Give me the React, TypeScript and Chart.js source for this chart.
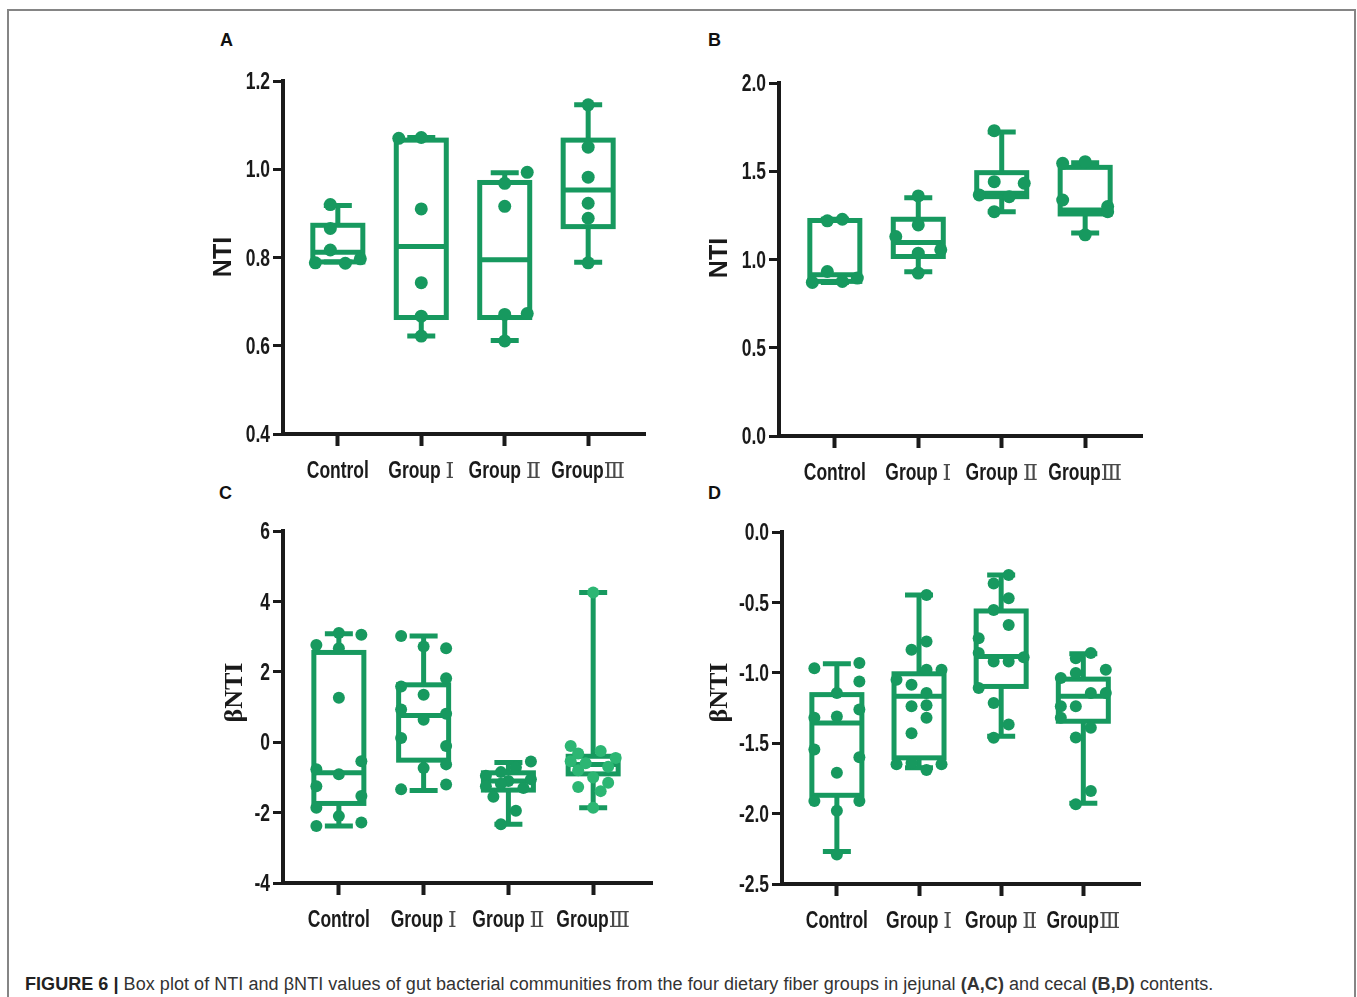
import React, { useEffect, useRef } from "react";
import { Chart, registerables } from "chart.js";
Chart.register(...registerables);

// ---------- data ----------
const CATEGORIES = ["Control", "Group Ⅰ", "Group Ⅱ", "GroupⅢ"];

// Panel A (jejunal NTI)
const A_YTICKS = [0.4, 0.6, 0.8, 1.0, 1.2];
const A_MIN = [0.79, 0.622, 0.612, 0.789];
const A_Q1 = [0.79, 0.664, 0.664, 0.87];
const A_MEDIAN = [0.812, 0.825, 0.795, 0.953];
const A_Q3 = [0.873, 1.066, 0.97, 1.066];
const A_MAX = [0.918, 1.072, 0.992, 1.146];
const A_CONTROL = [0.92, 0.866, 0.817, 0.788, 0.787, 0.797];
const A_GROUP1 = [1.07, 1.072, 0.91, 0.743, 0.667, 0.622];
const A_GROUP2 = [0.993, 0.968, 0.916, 0.671, 0.673, 0.611];
const A_GROUP3 = [1.146, 1.05, 0.982, 0.923, 0.889, 0.788];
const A_CONTROL_LANES = [-0.5, -0.5, -0.5, -1.5, 0.5, 1.5];
const A_GROUP1_LANES = [-1.5, 0, 0, 0, 0, 0];
const A_GROUP2_LANES = [1.5, 0, 0, 0, 1.5, 0];
const A_GROUP3_LANES = [0, 0, 0, 0, 0, 0];

// Panel B (cecal NTI)
const B_YTICKS = [0, 0.5, 1.0, 1.5, 2.0];
const B_MIN = [0.87, 0.93, 1.271, 1.15];
const B_Q1 = [0.876, 1.017, 1.356, 1.258];
const B_MEDIAN = [0.913, 1.096, 1.375, 1.281];
const B_Q3 = [1.221, 1.228, 1.492, 1.522];
const B_MAX = [1.228, 1.35, 1.723, 1.548];
const B_CONTROL = [1.219, 1.228, 0.932, 0.87, 0.876, 0.895];
const B_GROUP1 = [1.36, 1.196, 1.13, 1.036, 1.055, 0.923];
const B_GROUP2 = [1.73, 1.441, 1.432, 1.366, 1.356, 1.271];
const B_GROUP3 = [1.545, 1.554, 1.337, 1.3, 1.271, 1.14];
const B_CONTROL_LANES = [-0.5, 0.5, -0.5, -1.5, 0.5, 1.5];
const B_GROUP1_LANES = [0, 0, -1.5, 0, 1.5, 0];
const B_GROUP2_LANES = [-0.5, -0.5, 1.5, -1.5, 0.5, -0.5];
const B_GROUP3_LANES = [-1.5, 0, -1.5, 1.5, 1.5, 0];

// Panel C (jejunal βNTI)
const C_YTICKS = [-4, -2, 0, 2, 4, 6];
const C_MIN = [-2.38, -1.37, -2.33, -1.86];
const C_Q1 = [-1.74, -0.51, -1.36, -0.9];
const C_MEDIAN = [-0.87, 0.76, -1.1, -0.63];
const C_Q3 = [2.55, 1.63, -0.87, -0.4];
const C_MAX = [3.08, 3.02, -0.58, 4.25];
const C_CONTROL = [2.76, 3.1, 3.05, 2.67, 1.26, -0.54, -0.77, -0.91, -1.25, -1.53, -1.86, -2.1, -2.38, -2.28];
const C_GROUP1 = [3.02, 2.72, 2.67, 1.82, 1.58, 1.35, 0.93, 0.81, 0.64, 0.12, -0.11, -0.73, -0.63, -1.34, -1.2];
const C_GROUP2 = [-0.55, -0.72, -0.85, -0.95, -1.05, -1.1, -1.18, -1.25, -1.3, -1.55, -1.95, -2.33];
const C_GROUP3 = [4.25, -0.11, -0.32, -0.25, -0.45, -0.54, -0.6, -0.7, -0.8, -1.0, -1.15, -1.27, -1.39, -1.86];
const C_CONTROL_LANES = [-1.5, 0, 1.5, 0, 0, 1.5, -1.5, 0, -1.5, 1.5, -1.5, 0, -1.5, 1.5];
const C_GROUP1_LANES = [-1.5, 0, 1.5, 1.5, -1.5, 0, -1.5, 1.5, 0, -1.5, 1.5, 0, 1.5, -1.5, 1.5];
const C_GROUP2_LANES = [1.5, 0.5, -0.5, -1.5, 1.5, 0, -0.5, -1.5, 1, -1, 0.5, -0.5];
const C_GROUP3_LANES = [0, -1.5, -1, 0.5, 1.5, -1.5, -0.5, 1, -1, 0, 1, -1, 0.5, 0];

// Panel D (cecal βNTI)
const D_YTICKS = [-2.5, -2.0, -1.5, -1.0, -0.5, 0.0];
const D_MIN = [-2.27, -1.674, -1.45, -1.927];
const D_Q1 = [-1.87, -1.604, -1.097, -1.344];
const D_MEDIAN = [-1.356, -1.167, -0.884, -1.167];
const D_Q3 = [-1.155, -1.007, -0.561, -1.045];
const D_MAX = [-0.936, -0.448, -0.306, -0.865];
const D_CONTROL = [-0.967, -0.931, -1.061, -1.143, -1.32, -1.31, -1.26, -1.545, -1.6, -1.71, -1.91, -1.91, -1.98, -2.29];
const D_GROUP1 = [-0.448, -0.778, -0.837, -0.979, -0.979, -1.05, -1.085, -1.143, -1.23, -1.238, -1.32, -1.43, -1.65, -1.64, -1.69, -1.65];
const D_GROUP2 = [-0.306, -0.365, -0.471, -0.554, -0.66, -0.755, -0.86, -0.92, -0.92, -0.89, -1.108, -1.214, -1.368, -1.462];
const D_GROUP3 = [-0.86, -0.896, -0.979, -1.037, -1.002, -1.143, -1.143, -1.238, -1.238, -1.32, -1.39, -1.46, -1.84, -1.934];
const D_CONTROL_LANES = [-1.5, 1.5, 1.5, 0, -1.5, 0, 1.5, -1.5, 1.5, 0, -1.5, 1.5, 0, 0];
const D_GROUP1_LANES = [0.5, 0.5, -0.5, 0.5, 1.5, -1.5, -0.5, 0.5, 0.5, -0.5, 0.5, -0.5, -1.5, -0.5, 0.5, 1.5];
const D_GROUP2_LANES = [0.5, -0.5, 0.5, -0.5, 0.5, -1.5, -1.5, -0.5, 0.5, 1.5, -1.5, -0.5, 0.5, -0.5];
const D_GROUP3_LANES = [0.5, -0.5, 1.5, -1.5, -0.5, 0.5, 1.5, -1.5, -0.5, -1.5, 0.5, -0.5, 0.5, -0.5];

// ---------- styles ----------
const GREEN = "#17995f";
const GREEN_LIGHT = "#2cb673";
const INK = "#1a1a1a";
const SANS = "'Liberation Sans', Arial, sans-serif";
const SERIF = "'Liberation Serif', 'Times New Roman', serif";
const NUMERAL_FONT = "'DejaVu Serif', 'Noto Sans CJK SC', serif";
const LABEL_SIZE = 23;
const LABEL_SX = 0.76;

type PanelProps = {
  plotLeft: number; plotTop: number; plotRight: number; plotBottom: number;
  xMin: number; xMax: number;
  yTicks: number[]; decimals: number;
  title: string; titleFont: string; titleSize: number; titleX: number; titleY: number;
  stats: { min: number[]; q1: number[]; med: number[]; q3: number[]; max: number[] };
  groups: number[][]; lanes: number[][]; pointColors: string[];
  radius: number;
};

const YW = 80, PT = 20, PR = 20, XH = 58;
const LANE_PX = 15, BOX_HALF = 25, CAP_HALF = 14, LW = 5;

function drawNarrow(ctx: CanvasRenderingContext2D, text: string, x: number, baseY: number) {
  ctx.save();
  ctx.translate(x, baseY);
  ctx.scale(LABEL_SX, 1);
  ctx.font = `bold ${LABEL_SIZE}px ${SANS}`;
  ctx.textAlign = "left";
  ctx.textBaseline = "alphabetic";
  ctx.fillStyle = INK;
  ctx.fillText(text, 0, 0);
  ctx.restore();
}
function narrowWidth(ctx: CanvasRenderingContext2D, text: string) {
  ctx.save();
  ctx.font = `bold ${LABEL_SIZE}px ${SANS}`;
  const w = ctx.measureText(text).width * LABEL_SX;
  ctx.restore();
  return w;
}

function Panel(p: PanelProps) {
  const ref = useRef<HTMLCanvasElement>(null);
  const W = YW + (p.plotRight - p.plotLeft) + PR;
  const H = PT + (p.plotBottom - p.plotTop) + XH;
  const left = p.plotLeft - YW;
  const top = p.plotTop - PT;
  useEffect(() => {
    const pxPerCat = (p.plotRight - p.plotLeft) / (p.xMax - p.xMin);
    const boxPlugin = {
      id: "boxes",
      beforeDatasetsDraw(chart: any) {
        const { ctx, scales } = chart;
        const x = scales.x, y = scales.y;
        ctx.save();
        ctx.strokeStyle = GREEN;
        ctx.lineWidth = LW;
        ctx.lineCap = "butt";
        ctx.lineJoin = "miter";
        const s = p.stats;
        for (let i = 0; i < s.q1.length; i++) {
          const cx = x.getPixelForValue(i);
          const yMin = y.getPixelForValue(s.min[i]);
          const yQ1 = y.getPixelForValue(s.q1[i]);
          const yMed = y.getPixelForValue(s.med[i]);
          const yQ3 = y.getPixelForValue(s.q3[i]);
          const yMax = y.getPixelForValue(s.max[i]);
          ctx.beginPath();
          ctx.moveTo(cx, yQ3); ctx.lineTo(cx, yMax);
          ctx.moveTo(cx, yQ1); ctx.lineTo(cx, yMin);
          ctx.moveTo(cx - CAP_HALF, yMax); ctx.lineTo(cx + CAP_HALF, yMax);
          ctx.moveTo(cx - CAP_HALF, yMin); ctx.lineTo(cx + CAP_HALF, yMin);
          ctx.moveTo(cx - BOX_HALF, yMed); ctx.lineTo(cx + BOX_HALF, yMed);
          ctx.stroke();
          ctx.strokeRect(cx - BOX_HALF, yQ3, 2 * BOX_HALF, yQ1 - yQ3);
        }
        ctx.restore();
      },
      afterDraw(chart: any) {
        const { ctx, scales, chartArea } = chart;
        const x = scales.x, y = scales.y;
        // y tick labels
        for (const t of y.ticks) {
          const py = y.getPixelForValue(t.value);
          const label = Number(t.value).toFixed(p.decimals);
          const w = narrowWidth(ctx, label);
          drawNarrow(ctx, label, chartArea.left - 13 - w, py + LABEL_SIZE * 0.716 / 2);
        }
        // x tick labels (Roman numerals in a light serif face)
        const baseY = chartArea.bottom + 44;
        x.ticks.forEach((t: any) => {
          const label = CATEGORIES[Math.round(t.value)] ?? "";
          const m = label.match(/^(.*?)([ⅠⅡⅢ]?)$/) || [label, label, ""];
          const main = m[1], num = m[2];
          const w1 = narrowWidth(ctx, main);
          ctx.save();
          ctx.font = `22px ${NUMERAL_FONT}`;
          const w2 = num ? ctx.measureText(num).width : 0;
          ctx.restore();
          const cx = x.getPixelForValue(t.value);
          const x0 = cx - (w1 + w2) / 2;
          drawNarrow(ctx, main, x0, baseY);
          if (num) {
            ctx.save();
            ctx.font = `22px ${NUMERAL_FONT}`;
            ctx.fillStyle = "#4a4a4a";
            ctx.textAlign = "left";
            ctx.textBaseline = "alphabetic";
            ctx.fillText(num, x0 + w1, baseY);
            ctx.restore();
          }
        });
        // axis title
        ctx.save();
        ctx.translate(p.titleX - left, p.titleY - top);
        ctx.rotate(-Math.PI / 2);
        ctx.font = `bold ${p.titleSize}px ${p.titleFont}`;
        ctx.fillStyle = INK;
        ctx.textAlign = "center";
        ctx.textBaseline = "middle";
        ctx.fillText(p.title, 0, 0);
        ctx.restore();
      },
    };
    const chart = new Chart(ref.current!, {
      type: "scatter",
      data: {
        datasets: p.groups.map((vals, i) => ({
          data: vals.map((v, k) => ({ x: i + (p.lanes[i][k] * LANE_PX) / pxPerCat, y: v })),
          pointRadius: p.radius,
          pointHoverRadius: p.radius,
          pointBackgroundColor: p.pointColors[i],
          pointBorderWidth: 0,
          pointBorderColor: p.pointColors[i],
        })),
      },
      options: {
        animation: false,
        responsive: false,
        maintainAspectRatio: false,
        devicePixelRatio: 1,
        layout: { padding: { top: PT, right: PR, bottom: 0, left: 0 } },
        plugins: { legend: { display: false }, tooltip: { enabled: false } },
        scales: {
          x: {
            type: "linear",
            min: p.xMin,
            max: p.xMax,
            afterBuildTicks: (s: any) => { s.ticks = CATEGORIES.map((_, i) => ({ value: i })); },
            afterFit: (s: any) => { s.height = XH; },
            ticks: { display: false },
            grid: { drawOnChartArea: false, drawTicks: true, tickLength: 12, tickWidth: 4, tickColor: INK },
            border: { display: true, width: 4, color: INK },
          },
          y: {
            type: "linear",
            min: p.yTicks[0],
            max: p.yTicks[p.yTicks.length - 1],
            afterBuildTicks: (s: any) => { s.ticks = p.yTicks.map((v) => ({ value: v })); },
            afterFit: (s: any) => { s.width = YW; },
            ticks: { display: false },
            grid: { drawOnChartArea: false, drawTicks: true, tickLength: 10, tickWidth: 3, tickColor: INK },
            border: { display: true, width: 4, color: INK },
          },
        },
      },
      plugins: [boxPlugin],
    } as any);
    return () => chart.destroy();
  }, []);
  return (
    <canvas
      ref={ref}
      width={W}
      height={H}
      style={{ position: "absolute", left, top, width: W, height: H }}
    />
  );
}

export default function App() {
  const letter = (t: string, left: number, top: number) => (
    <div style={{ position: "absolute", left, top, fontFamily: SANS, fontWeight: "bold", fontSize: 18, lineHeight: 1, color: "#111" }}>{t}</div>
  );
  return (
    <div style={{ position: "absolute", left: 0, top: 0, width: 1357, height: 997, background: "#fff", overflow: "hidden" }}>
      <div style={{ position: "absolute", left: 7, top: 9, width: 1349, height: 1100, boxSizing: "border-box", borderTop: "2px solid #858585", borderLeft: "2px solid #858585", borderRight: "2px solid #858585" }} />
      {letter("A", 220, 31)}
      {letter("B", 708, 31)}
      {letter("C", 219, 484)}
      {letter("D", 708, 484)}
      <Panel
        plotLeft={283} plotTop={81} plotRight={645} plotBottom={434}
        xMin={-0.657} xMax={3.681} yTicks={A_YTICKS} decimals={1}
        title="NTI" titleFont={SANS} titleSize={25} titleX={224.5} titleY={257}
        stats={{ min: A_MIN, q1: A_Q1, med: A_MEDIAN, q3: A_Q3, max: A_MAX }}
        groups={[A_CONTROL, A_GROUP1, A_GROUP2, A_GROUP3]}
        lanes={[A_CONTROL_LANES, A_GROUP1_LANES, A_GROUP2_LANES, A_GROUP3_LANES]}
        pointColors={[GREEN, GREEN, GREEN, GREEN]} radius={6.5}
      />
      <Panel
        plotLeft={779} plotTop={83} plotRight={1142} plotBottom={436}
        xMin={-0.669} xMax={3.681} yTicks={B_YTICKS} decimals={1}
        title="NTI" titleFont={SANS} titleSize={25} titleX={720.5} titleY={258}
        stats={{ min: B_MIN, q1: B_Q1, med: B_MEDIAN, q3: B_Q3, max: B_MAX }}
        groups={[B_CONTROL, B_GROUP1, B_GROUP2, B_GROUP3]}
        lanes={[B_CONTROL_LANES, B_GROUP1_LANES, B_GROUP2_LANES, B_GROUP3_LANES]}
        pointColors={[GREEN, GREEN, GREEN, GREEN]} radius={6.5}
      />
      <Panel
        plotLeft={283} plotTop={531} plotRight={652} plotBottom={883}
        xMin={-0.659} xMax={3.694} yTicks={C_YTICKS} decimals={0}
        title="βNTI" titleFont={SERIF} titleSize={26} titleX={235.5} titleY={692.5}
        stats={{ min: C_MIN, q1: C_Q1, med: C_MEDIAN, q3: C_Q3, max: C_MAX }}
        groups={[C_CONTROL, C_GROUP1, C_GROUP2, C_GROUP3]}
        lanes={[C_CONTROL_LANES, C_GROUP1_LANES, C_GROUP2_LANES, C_GROUP3_LANES]}
        pointColors={[GREEN, GREEN, GREEN, GREEN_LIGHT]} radius={6}
      />
      <Panel
        plotLeft={782} plotTop={532} plotRight={1140} plotBottom={884}
        xMin={-0.668} xMax={3.69} yTicks={D_YTICKS} decimals={1}
        title="βNTI" titleFont={SERIF} titleSize={26} titleX={720.5} titleY={692.5}
        stats={{ min: D_MIN, q1: D_Q1, med: D_MEDIAN, q3: D_Q3, max: D_MAX }}
        groups={[D_CONTROL, D_GROUP1, D_GROUP2, D_GROUP3]}
        lanes={[D_CONTROL_LANES, D_GROUP1_LANES, D_GROUP2_LANES, D_GROUP3_LANES]}
        pointColors={[GREEN, GREEN, GREEN, GREEN]} radius={6}
      />
      <div style={{ position: "absolute", left: 25, top: 975, fontFamily: SANS, fontSize: 18, lineHeight: 1, letterSpacing: 0.05, color: "#333", whiteSpace: "nowrap" }}>
        <b style={{ color: "#222" }}>FIGURE 6 |</b> Box plot of NTI and βNTI values of gut bacterial communities from the four dietary fiber groups in jejunal <b>(A,C)</b> and cecal <b>(B,D)</b> contents.
      </div>
    </div>
  );
}
